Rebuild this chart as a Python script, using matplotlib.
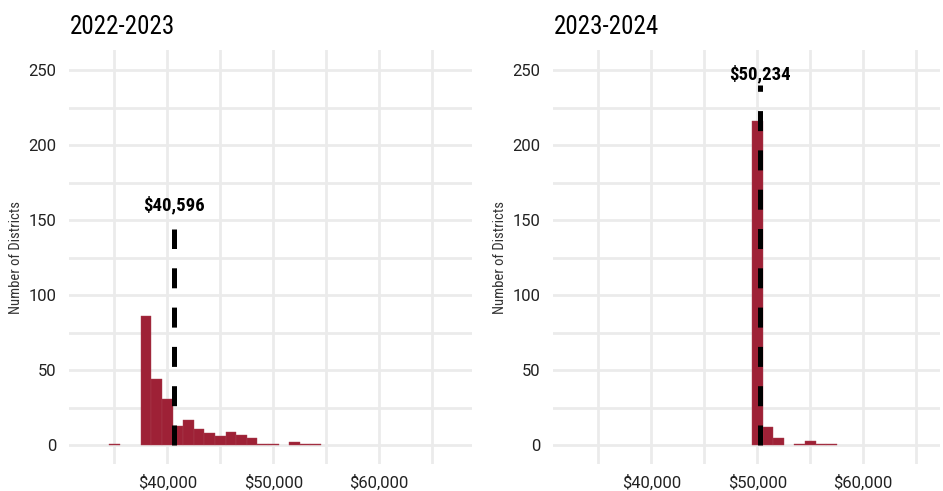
import matplotlib
matplotlib.use("Agg")
import matplotlib.pyplot as plt
from matplotlib import font_manager

# ---------------- data ----------------
titles = ["2022-2023", "2023-2024"]
bins_2223 = [35000, 38000, 39000, 40000, 41000, 42000, 43000, 44000, 45000,
             46000, 47000, 48000, 49000, 50000, 52000, 53000, 54000]
counts_2223 = [1, 86, 44, 31, 13, 17, 11, 8, 6, 9, 7, 5, 1, 1, 2, 1, 1]
bins_2324 = [50000, 51000, 52000, 54000, 55000, 56000, 57000]
counts_2324 = [216, 12, 5, 1, 3, 1, 1]
means = [40596, 50234]
mean_labels = ["$40,596", "$50,234"]
line_tops = [144, 240]
label_y = [160, 247.5]
x_ticks = [40000, 50000, 60000]
x_ticklabels = ["$40,000", "$50,000", "$60,000"]
x_minor = [35000, 45000, 55000, 65000]
y_ticks = [0, 50, 100, 150, 200, 250]
y_minor = [25, 75, 125, 175, 225]
bin_width = 1000

# ---------------- fonts ----------------
avail = {f.name for f in font_manager.fontManager.ttflist}
def pick(cands):
    for c in cands:
        if c in avail:
            return c
    return "DejaVu Sans"
cond = pick(["Roboto Condensed", "Liberation Sans Narrow", "Roboto", "DejaVu Sans"])
reg = pick(["Roboto", "DejaVu Sans"])

W, H = 943, 491
fig = plt.figure(figsize=(W / 100, H / 100), dpi=100)
bar_color = "#9E2136"
grid_color = "#EBEBEB"

panels = [
    (69, 472, 114.3, bins_2223, counts_2223),
    (553, 940, 598.3, bins_2324, counts_2324),
]
top_px, bot_px = 50, 464
px_per_unit = 53 / 5000.0

for i, (lpx, rpx, g35, bins, counts) in enumerate(panels):
    ax = fig.add_axes([lpx / W, (H - bot_px) / H, (rpx - lpx) / W, (bot_px - top_px) / H])
    xmin = 35000 - (g35 - lpx) / px_per_unit
    xmax = 35000 + (rpx - g35) / px_per_unit
    ax.set_xlim(xmin, xmax)
    ax.set_ylim(-(bot_px - 445) / 1.5, (445 - top_px) / 1.5)
    for s in ax.spines.values():
        s.set_visible(False)
    ax.set_xticks(x_ticks)
    ax.set_xticklabels(x_ticklabels)
    ax.set_xticks(x_minor, minor=True)
    ax.set_yticks(y_ticks)
    ax.set_yticks(y_minor, minor=True)
    ax.grid(True, which="both", color=grid_color, linewidth=2.0)
    ax.set_axisbelow(True)
    ax.tick_params(which="both", length=0)
    ax.tick_params(axis="y", pad=9, labelsize=12, labelcolor="#222222")
    ax.tick_params(axis="x", pad=8, labelsize=12, labelcolor="#222222")
    for lab in ax.get_xticklabels() + ax.get_yticklabels():
        lab.set_fontfamily(reg)
    ax.bar(bins, counts, width=bin_width, color=bar_color,
           edgecolor="#A8404F", linewidth=0.3, zorder=2)
    ax.plot([means[i], means[i]], [0, line_tops[i]], color="black", lw=3.6,
            linestyle=(0, (4.0, 3.86)), solid_capstyle="butt", dash_capstyle="butt", zorder=3)
    ax.text(means[i], label_y[i], mean_labels[i], ha="center", va="center",
            fontsize=13.5, fontweight="bold", family=cond, color="black", zorder=4)
    fig.text((lpx + 1) / W, 1 - 33.5 / H, titles[i], ha="left", va="baseline",
             fontsize=18, family=cond, color="black")
    fig.text((lpx - 53) / W, 1 - 257 / H, "Number of Districts", rotation=90,
             ha="center", va="center", fontsize=10.5, family=cond, color="#333333")

fig.savefig("out.png", dpi=100)
